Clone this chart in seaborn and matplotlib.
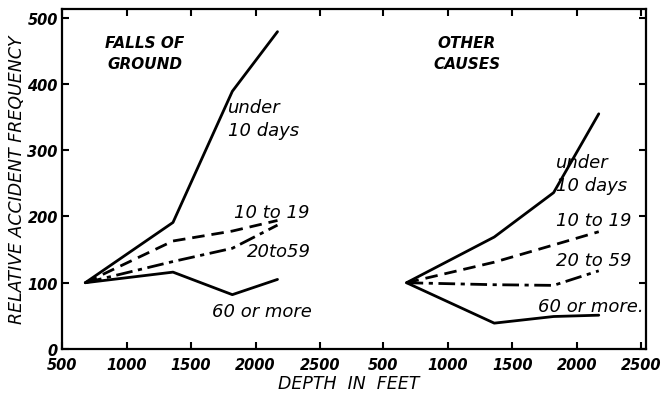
import matplotlib
matplotlib.use("Agg")
import matplotlib.pyplot as plt
import seaborn as sns
import pandas as pd

# ---- data ----
depths = [680, 1360, 1820, 2170]
falls_under10 = [100, 191, 389, 479]
falls_10to19 = [100, 163, 178, 194]
falls_20to59 = [100, 132, 152, 187]
falls_60plus = [100, 116, 82, 105]
other_under10 = [100, 169, 236, 355]
other_10to19 = [100, 131, 157, 177]
other_20to59 = [100, 97, 96, 118]
other_60plus = [100, 39, 49, 51]
tick_depths = [500, 1000, 1500, 2000, 2500]
y_ticks = [0, 100, 200, 300, 400, 500]
panel_offset = 2490  # second panel is drawn to the right of the first on one axis

groups = ["under 10 days", "10 to 19", "20 to 59", "60 or more"]
rows = []
for panel, series, off in [("falls", [falls_under10, falls_10to19, falls_20to59, falls_60plus], 0),
                           ("other", [other_under10, other_10to19, other_20to59, other_60plus], panel_offset)]:
    for g, vals in zip(groups, series):
        for d, v in zip(depths, vals):
            rows.append({"panel": panel, "group": g, "x": d + off, "freq": v})
df = pd.DataFrame(rows)

sns.set_style("ticks")
plt.rcParams["font.family"] = ["DejaVu Sans"]
plt.rcParams.update({"text.color": "black", "axes.labelcolor": "black",
                     "xtick.color": "black", "ytick.color": "black",
                     "axes.edgecolor": "black"})

fig = plt.figure(figsize=(6.62, 4.06), dpi=100)
ax = fig.add_axes([0.0937, 0.138, 0.8823, 0.837])

styles = {"under 10 days": "-", "10 to 19": (0, (4.5, 2.5)),
          "20 to 59": (0, (6, 2, 1.5, 2)), "60 or more": "-"}
for (panel, g), sub in df.groupby(["panel", "group"]):
    sns.lineplot(data=sub, x="x", y="freq", ax=ax, color="black",
                 linewidth=2.0, linestyle=styles[g], legend=False,
                 estimator=None, sort=False)

ax.set_xlim(500, 5027)
ax.set_ylim(0, 513)

xt = tick_depths + [d + panel_offset for d in tick_depths]
ax.set_xticks(xt)
ax.set_xticklabels([str(d) for d in tick_depths] * 2)
ax.set_yticks(y_ticks)
ax.tick_params(axis="both", direction="in", length=5, width=1.5,
               top=True, right=True, labelsize=10.5, colors="black")
ax.tick_params(axis="x", pad=6)
ax.tick_params(axis="y", pad=3)
for lab in ax.get_xticklabels() + ax.get_yticklabels():
    lab.set_fontstyle("italic")
    lab.set_fontweight("bold")
for s in ax.spines.values():
    s.set_linewidth(1.6)
    s.set_color("black")

ax.set_xlabel("DEPTH  IN  FEET", fontsize=12.5, fontstyle="italic", labelpad=1, x=0.49, color="black")
ax.set_ylabel("RELATIVE ACCIDENT FREQUENCY", fontsize=12.5, fontstyle="italic", labelpad=1, color="black")

tkw = dict(fontstyle="italic", color="black")
ax.text(0.142, 0.87, "FALLS OF\nGROUND", transform=ax.transAxes, fontsize=11,
        fontweight="bold", linespacing=1.5, ha="center", va="center", **tkw)
ax.text(0.693, 0.87, "OTHER\nCAUSES", transform=ax.transAxes, fontsize=11,
        fontweight="bold", linespacing=1.5, ha="center", va="center", **tkw)

lab = dict(fontsize=13, ha="left", va="center", **tkw)
# left panel labels
ax.text(1790, 348, "under\n10 days", linespacing=1.3, **lab)
ax.text(1830, 207, "10 to 19", **lab)
ax.text(1930, 148, "20to59", **lab)
ax.text(1660, 57, "60 or more", **lab)
# right panel labels
ax.text(1840 + panel_offset, 265, "under\n10 days", linespacing=1.3, **lab)
ax.text(1840 + panel_offset, 194, "10 to 19", **lab)
ax.text(1840 + panel_offset, 134, "20 to 59", **lab)
ax.text(1700 + panel_offset, 65, "60 or more.", **lab)

fig.savefig("out.png", dpi=100)
